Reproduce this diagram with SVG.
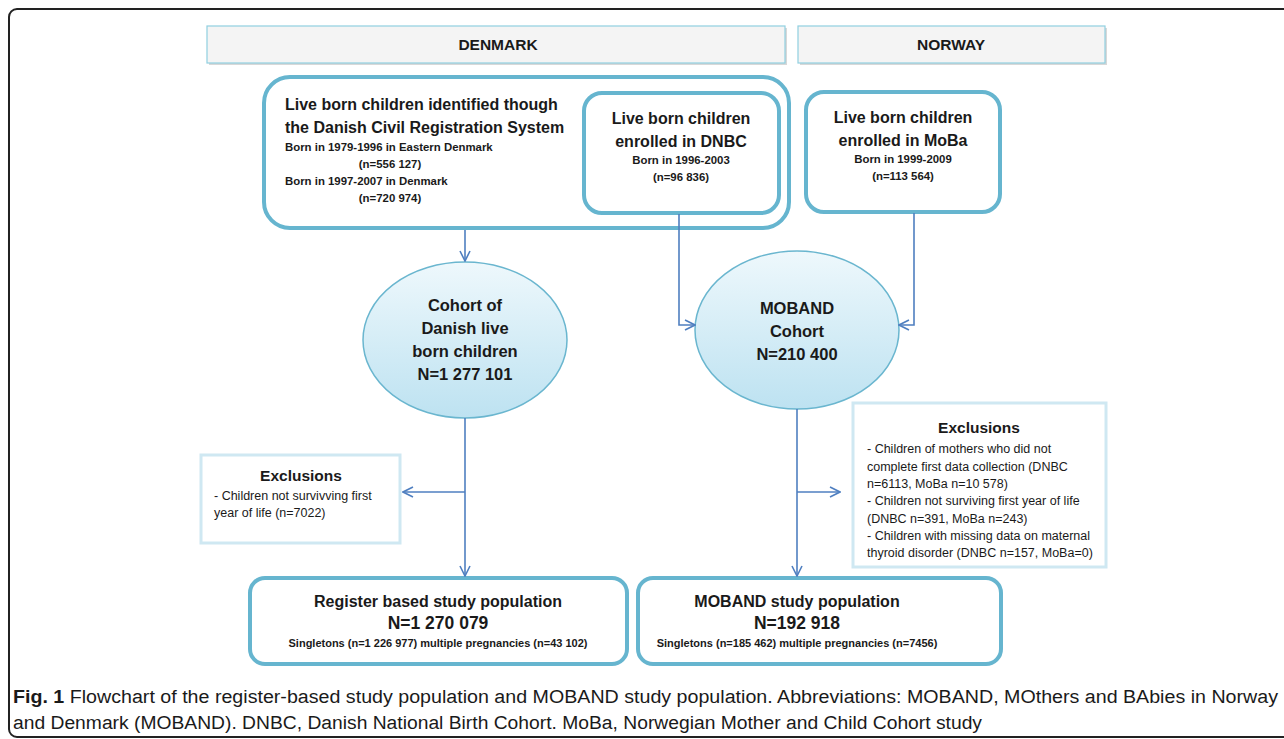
<svg xmlns="http://www.w3.org/2000/svg" width="1284" height="739" viewBox="0 0 1284 739">
<style>
text{font-family:"Liberation Sans",Arial,sans-serif;fill:#1a1a1a}
.b{font-weight:bold}
.hdr{fill:#f4f4f4;stroke:#8fcfe0;stroke-width:1.2}
.box{fill:#fff;stroke:#66b5cf;stroke-width:4}
.exc{fill:#fff;stroke:#cfe8f2;stroke-width:3}
.ell{fill:url(#eg);stroke:#6ab6cf;stroke-width:1.5}
.con{fill:none;stroke:#4f7fc0;stroke-width:1.6}
.et{font-size:12.5px}
</style>
<defs>
<linearGradient id="eg" x1="0" y1="0" x2="0" y2="1">
<stop offset="0" stop-color="#eef8fc"/>
<stop offset="1" stop-color="#bde2f1"/>
</linearGradient>
<marker id="ar" viewBox="0 0 12 12" refX="11" refY="6" markerWidth="12" markerHeight="12" markerUnits="userSpaceOnUse" orient="auto">
<path d="M1,1 L11,6 L1,11" fill="none" stroke="#4f7fc0" stroke-width="1.6"/>
</marker>
</defs>
<rect x="0" y="0" width="1284" height="739" fill="#fff"/>
<rect x="9" y="9" width="1300" height="728" rx="8" fill="none" stroke="#222" stroke-width="2"/>

<g id="hdr-denmark">
<rect x="209" y="28" width="578" height="37" fill="#d8d8d8"/>
<rect class="hdr" x="207" y="26" width="578" height="37"/>
<text class="b" x="498" y="50" font-size="15.5" text-anchor="middle">DENMARK</text>
</g>
<g id="hdr-norway">
<rect x="800" y="28" width="307" height="37" fill="#d8d8d8"/>
<rect class="hdr" x="798" y="26" width="307" height="37"/>
<text class="b" x="951" y="50" font-size="15.5" text-anchor="middle">NORWAY</text>
</g>

<g id="registry">
<rect class="box" x="264" y="77" width="525" height="151" rx="26"/>
<text class="b" x="285" y="110" font-size="16">Live born children identified though</text>
<text class="b" x="285" y="133" font-size="16">the Danish Civil Registration System</text>
<text class="b" x="285" y="151" font-size="11.4">Born in 1979-1996 in Eastern Denmark</text>
<text class="b" x="390" y="168" font-size="11.4" text-anchor="middle">(n=556 127)</text>
<text class="b" x="285" y="185" font-size="11.4">Born in 1997-2007 in Denmark</text>
<text class="b" x="390" y="202" font-size="11.4" text-anchor="middle">(n=720 974)</text>
</g>

<g id="dnbc">
<rect class="box" x="584" y="93" width="195" height="120" rx="18"/>
<text class="b" x="681" y="124" font-size="16" text-anchor="middle">Live born children</text>
<text class="b" x="681" y="147" font-size="16" text-anchor="middle">enrolled in DNBC</text>
<text class="b" x="681" y="164" font-size="11.4" text-anchor="middle">Born in 1996-2003</text>
<text class="b" x="681" y="181" font-size="11.4" text-anchor="middle">(n=96 836)</text>
</g>

<g id="moba">
<rect class="box" x="806" y="92" width="194" height="120" rx="18"/>
<text class="b" x="903" y="123" font-size="16" text-anchor="middle">Live born children</text>
<text class="b" x="903" y="146" font-size="16" text-anchor="middle">enrolled in MoBa</text>
<text class="b" x="903" y="163" font-size="11.4" text-anchor="middle">Born in 1999-2009</text>
<text class="b" x="903" y="180" font-size="11.4" text-anchor="middle">(n=113 564)</text>
</g>

<g id="danish-cohort">
<ellipse class="ell" cx="465" cy="340" rx="102" ry="78"/>
<text class="b" x="465" y="311" font-size="16.5" text-anchor="middle">Cohort of</text>
<text class="b" x="465" y="334" font-size="16.5" text-anchor="middle">Danish live</text>
<text class="b" x="465" y="357" font-size="16.5" text-anchor="middle">born children</text>
<text class="b" x="465" y="380" font-size="16.5" text-anchor="middle">N=1 277 101</text>
</g>

<g id="moband-cohort">
<ellipse class="ell" cx="797" cy="330" rx="102" ry="79"/>
<text class="b" x="797" y="314" font-size="16.5" text-anchor="middle">MOBAND</text>
<text class="b" x="797" y="337" font-size="16.5" text-anchor="middle">Cohort</text>
<text class="b" x="797" y="360" font-size="16.5" text-anchor="middle">N=210 400</text>
</g>

<g id="excl-left">
<rect class="exc" x="201" y="455" width="199" height="88"/>
<text class="b" x="301" y="481" font-size="15.5" text-anchor="middle">Exclusions</text>
<text class="et" x="214" y="500">- Children not survivving first</text>
<text class="et" x="214" y="517">year of life (n=7022)</text>
</g>

<g id="excl-right">
<rect class="exc" x="853" y="403" width="253" height="164"/>
<text class="b" x="979" y="433" font-size="15.5" text-anchor="middle">Exclusions</text>
<text class="et" x="867" y="453">- Children of mothers who did not</text>
<text class="et" x="867" y="471">complete first data collection (DNBC</text>
<text class="et" x="867" y="488">n=6113, MoBa n=10 578)</text>
<text class="et" x="867" y="505">- Children not surviving first year of life</text>
<text class="et" x="867" y="523">(DNBC n=391, MoBa n=243)</text>
<text class="et" x="867" y="540">- Children with missing data on maternal</text>
<text class="et" x="867" y="557">thyroid disorder (DNBC n=157, MoBa=0)</text>
</g>

<g id="register-pop">
<rect class="box" x="250" y="578" width="377" height="86" rx="15"/>
<text class="b" x="438" y="607" font-size="16" text-anchor="middle">Register based study population</text>
<text class="b" x="438" y="629" font-size="17.5" text-anchor="middle">N=1 270 079</text>
<text class="b" x="438" y="647" font-size="11" text-anchor="middle">Singletons (n=1 226 977) multiple pregnancies (n=43 102)</text>
</g>

<g id="moband-pop">
<rect class="box" x="638" y="578" width="363" height="86" rx="15"/>
<text class="b" x="797" y="607" font-size="16" text-anchor="middle">MOBAND study population</text>
<text class="b" x="797" y="629" font-size="17.5" text-anchor="middle">N=192 918</text>
<text class="b" x="797" y="647" font-size="11" text-anchor="middle">Singletons (n=185 462) multiple pregnancies (n=7456)</text>
</g>

<g id="connectors">
<path class="con" d="M465,230 V261" marker-end="url(#ar)"/>
<path class="con" d="M679,214 V325 H695" marker-end="url(#ar)"/>
<path class="con" d="M914,213 V325 H899" marker-end="url(#ar)"/>
<path class="con" d="M465,418 V576" marker-end="url(#ar)"/>
<path class="con" d="M465,492 H403" marker-end="url(#ar)"/>
<path class="con" d="M797,409 V576" marker-end="url(#ar)"/>
<path class="con" d="M797,492 H840" marker-end="url(#ar)"/>
</g>

<g id="caption">
<text x="13" y="703" font-size="18" textLength="1265" lengthAdjust="spacingAndGlyphs"><tspan class="b">Fig. 1</tspan> Flowchart of the register-based study population and MOBAND study population. Abbreviations: MOBAND, MOthers and BAbies in Norway</text>
<text x="13" y="729" font-size="18" textLength="969" lengthAdjust="spacingAndGlyphs">and Denmark (MOBAND). DNBC, Danish National Birth Cohort. MoBa, Norwegian Mother and Child Cohort study</text>
</g>
</svg>
